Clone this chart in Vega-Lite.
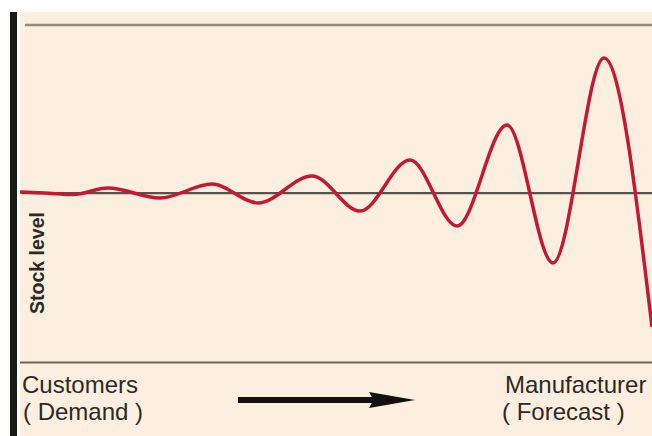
{
  "$schema": "https://vega.github.io/schema/vega-lite/v6.json",
  "width": 652,
  "height": 436,
  "autosize": {"type": "none"},
  "padding": 0,
  "background": "#ffffff",
  "config": {"view": {"stroke": null}},
  "datasets": {
    "panel": [{"t": -0.2, "t2": 63, "v": 18.1, "v2": -24.3}],
    "bar": [{"t": -1.2, "t2": -0.5, "v": 18.1, "v2": -24.3}],
    "hlines": [
      {"line": "top", "t": 0.3, "t2": 63, "v": 16.8},
      {"line": "base", "t": 0, "t2": 63, "v": 0},
      {"line": "bottom", "t": -0.2, "t2": 63, "v": -16.95}
    ],
    "curve": [
      {"t": -0.2, "v": 0.1}, {"t": 2.3, "v": 0.0}, {"t": 5.1, "v": -0.15},
      {"t": 8.6, "v": 0.5}, {"t": 13.8, "v": -0.5}, {"t": 19.0, "v": 0.9},
      {"t": 23.6, "v": -1.0}, {"t": 29.0, "v": 1.7}, {"t": 33.8, "v": -1.8},
      {"t": 38.8, "v": 3.3}, {"t": 43.5, "v": -3.3}, {"t": 48.5, "v": 6.8},
      {"t": 53.1, "v": -7.0}, {"t": 58.2, "v": 13.5}, {"t": 63.0, "v": -13.4}
    ],
    "arrow": [{"t": 21.6, "t2": 37.3, "v": -20.7}],
    "head": [{"t": 37.0, "v": -20.7}],
    "labels": [
      {"t": 0.0, "v": -20, "label": "Customers"},
      {"t": 0.1, "v": -22.7, "label": "( Demand )"},
      {"t": 48.3, "v": -20, "label": "Manufacturer"},
      {"t": 48.0, "v": -22.7, "label": "( Forecast )"}
    ],
    "ylabel": [{"t": 1.6, "v": -7.0, "label": "Stock level"}]
  },
  "encoding": {
    "x": {"field": "t", "type": "quantitative", "scale": {"domain": [-2.2, 63], "nice": false, "zero": false}, "axis": null},
    "y": {"field": "v", "type": "quantitative", "scale": {"domain": [-24.3, 19.3], "nice": false, "zero": false}, "axis": null}
  },
  "layer": [
    {
      "data": {"name": "panel"},
      "mark": {"type": "rect", "color": "#fdefdf"},
      "encoding": {"x2": {"field": "t2"}, "y2": {"field": "v2"}}
    },
    {
      "data": {"name": "bar"},
      "mark": {"type": "rect", "color": "#1c1a15"},
      "encoding": {"x2": {"field": "t2"}, "y2": {"field": "v2"}}
    },
    {
      "data": {"name": "hlines"},
      "mark": {"type": "rule"},
      "encoding": {
        "x2": {"field": "t2"},
        "color": {"field": "line", "type": "nominal", "legend": null,
          "scale": {"domain": ["top", "base", "bottom"], "range": ["#958b7d", "#57524a", "#6e665b"]}},
        "strokeWidth": {"field": "line", "type": "nominal", "legend": null,
          "scale": {"domain": ["top", "base", "bottom"], "range": [2.5, 2, 2.5]}}
      }
    },
    {
      "data": {"name": "curve"},
      "mark": {"type": "line", "interpolate": "monotone", "color": "#c21a33", "strokeWidth": 3.5}
    },
    {
      "data": {"name": "arrow"},
      "mark": {"type": "rule", "color": "#111111", "strokeWidth": 6},
      "encoding": {"x2": {"field": "t2"}}
    },
    {
      "data": {"name": "head"},
      "mark": {"type": "point", "shape": "M -1 -0.35 L 1 0 L -1 0.35 L -0.8 0 Z", "filled": true, "color": "#111111", "opacity": 1, "size": 2116}
    },
    {
      "data": {"name": "labels"},
      "mark": {"type": "text", "align": "left", "baseline": "alphabetic", "font": "Liberation Sans", "fontSize": 24, "color": "#2b2a28"},
      "encoding": {"text": {"field": "label"}}
    },
    {
      "data": {"name": "ylabel"},
      "mark": {"type": "text", "align": "center", "baseline": "middle", "angle": 270, "font": "Liberation Sans", "fontWeight": "bold", "fontSize": 19.5, "color": "#2b2a28"},
      "encoding": {"text": {"field": "label"}}
    }
  ]
}
